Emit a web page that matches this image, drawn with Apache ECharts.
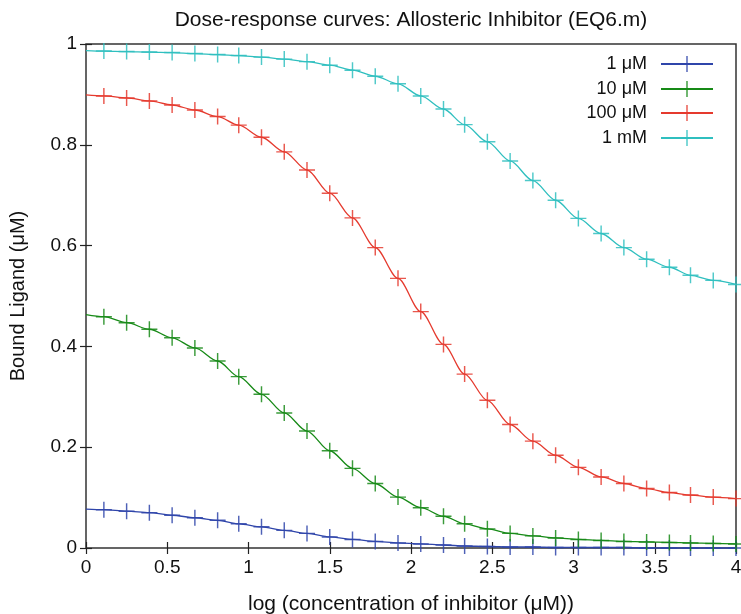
<!DOCTYPE html>
<html>
<head>
	<meta charset="utf-8">
	<title>Dose-response curves</title>
	<script src="https://cdn.jsdelivr.net/npm/echarts@6/dist/echarts.min.js"></script>
	<style>
		html, body { margin: 0; padding: 0; background: #fff; }
		#chart1 { width: 741px; height: 614px; }
	</style>
</head>
<body>
<div id="chart1"></div>
<script>
// log concentration of inhibitor, marker positions
var xs = [0.11, 0.25, 0.39, 0.53, 0.67, 0.81, 0.94, 1.08, 1.22, 1.36, 1.50, 1.64, 1.78, 1.92,
	2.06, 2.20, 2.33, 2.47, 2.61, 2.75, 2.89, 3.03, 3.17, 3.31, 3.45, 3.59, 3.72, 3.86, 4.00];
// value at x = 0 where each line starts (no marker there)
var start = [0.077, 0.463, 0.899, 0.987];
var y1uM = [0.076, 0.073, 0.070, 0.065, 0.060, 0.055, 0.048, 0.042, 0.035, 0.029, 0.022, 0.017, 0.013, 0.010,
	0.008, 0.006, 0.004, 0.003, 0.002, 0.002, 0.001, 0.001, 0.001, 0.001, 0.000, 0.000, 0.000, 0.000, 0.000];
var y10uM = [0.459, 0.447, 0.434, 0.417, 0.397, 0.371, 0.340, 0.305, 0.268, 0.232, 0.193, 0.158, 0.128, 0.101,
	0.080, 0.063, 0.048, 0.038, 0.029, 0.024, 0.020, 0.017, 0.015, 0.013, 0.012, 0.011, 0.010, 0.009, 0.008];
var y100uM = [0.897, 0.893, 0.887, 0.879, 0.869, 0.856, 0.839, 0.815, 0.786, 0.750, 0.704, 0.655, 0.596, 0.535,
	0.469, 0.404, 0.345, 0.293, 0.245, 0.212, 0.184, 0.160, 0.141, 0.128, 0.118, 0.110, 0.105, 0.101, 0.098];
var y1mM = [0.986, 0.985, 0.984, 0.983, 0.981, 0.979, 0.977, 0.974, 0.970, 0.965, 0.958, 0.948, 0.936, 0.921,
	0.897, 0.871, 0.840, 0.806, 0.768, 0.729, 0.690, 0.654, 0.624, 0.596, 0.573, 0.557, 0.541, 0.531, 0.523];
var names = ['1 μM', '10 μM', '100 μM', '1 mM'];
var colors = ['#2f45aa', '#178a17', '#e53a2e', '#2fbfbf'];
var xTicks = [0, 4, 0.5];
var yTicks = [0, 1, 0.2];

var FONT = 'Liberation Sans';
var plus = 'path://M45.5,0H54.5V45.5H100V54.5H54.5V100H45.5V54.5H0V45.5H45.5Z';

function mk(i, ys) {
	var d = [{ value: [0, start[i]], symbol: 'none' }];
	for (var k = 0; k < xs.length; k++) d.push([xs[k], ys[k]]);
	return {
		name: names[i],
		type: 'line',
		data: d,
		smooth: 0.3,
		smoothMonotone: 'x',
		symbol: plus,
		symbolSize: 16,
		showAllSymbol: true,
		clip: false,
		lineStyle: { color: colors[i], width: 1.3 },
		itemStyle: { color: colors[i], opacity: 0.85 },
		emphasis: { disabled: true }
	};
}

var chart1 = echarts.init(document.getElementById('chart1'), null, { renderer: 'canvas' });
var axisLine = { show: false };
var tick = { show: true, inside: true, length: 6, lineStyle: { color: '#222', width: 1.2 } };
var legends = [];
var legendTop = [50, 75, 99, 124];
for (var i = 0; i < names.length; i++) {
	legends.push({
		data: [names[i]],
		right: 22,
		top: legendTop[i],
		align: 'right',
		itemWidth: 52,
		itemHeight: 20,
		selectedMode: false,
		textStyle: { fontFamily: FONT, fontSize: 18, color: '#111', padding: [0, 9, 0, 0] }
	});
}

var option = {
	animation: false,
	// title centred over the plot area, as gnuplot does
	graphic: [{
		type: 'text',
		x: 411,
		y: 20,
		style: {
			text: 'Dose-response curves: Allosteric Inhibitor (EQ6.m)',
			align: 'center',
			verticalAlign: 'middle',
			font: '21px "Liberation Sans"',
			fill: '#111'
		}
	}],
	legend: legends,
	grid: {
		left: 86, right: 5, top: 44, bottom: 66, outerBoundsMode: 'none',
		show: true, borderColor: '#333', borderWidth: 1.5
	},
	xAxis: [{
		type: 'value', min: xTicks[0], max: xTicks[1], interval: xTicks[2],
		name: 'log (concentration of inhibitor (μM))', nameLocation: 'middle', nameGap: 46,
		nameTextStyle: { fontFamily: FONT, fontSize: 21, color: '#111' },
		axisLine: axisLine, axisTick: tick, splitLine: { show: false },
		axisLabel: { fontFamily: FONT, fontSize: 19, color: '#111', margin: 10 }
	}, {
		type: 'value', position: 'top', min: xTicks[0], max: xTicks[1], interval: xTicks[2],
		axisLine: axisLine, axisTick: tick, splitLine: { show: false }, axisLabel: { show: false }
	}],
	yAxis: [{
		type: 'value', min: yTicks[0], max: yTicks[1], interval: yTicks[2],
		name: 'Bound Ligand (μM)', nameLocation: 'middle', nameGap: 58,
		nameTextStyle: { fontFamily: FONT, fontSize: 20, color: '#111' },
		axisLine: axisLine, axisTick: tick, splitLine: { show: false },
		axisLabel: { fontFamily: FONT, fontSize: 19, color: '#111', margin: 9 }
	}, {
		type: 'value', position: 'right', min: yTicks[0], max: yTicks[1], interval: yTicks[2],
		axisLine: axisLine, axisTick: tick, splitLine: { show: false }, axisLabel: { show: false }
	}],
	series: [mk(0, y1uM), mk(1, y10uM), mk(2, y100uM), mk(3, y1mM)]
};
chart1.setOption(option);
</script>
</body>
</html>
